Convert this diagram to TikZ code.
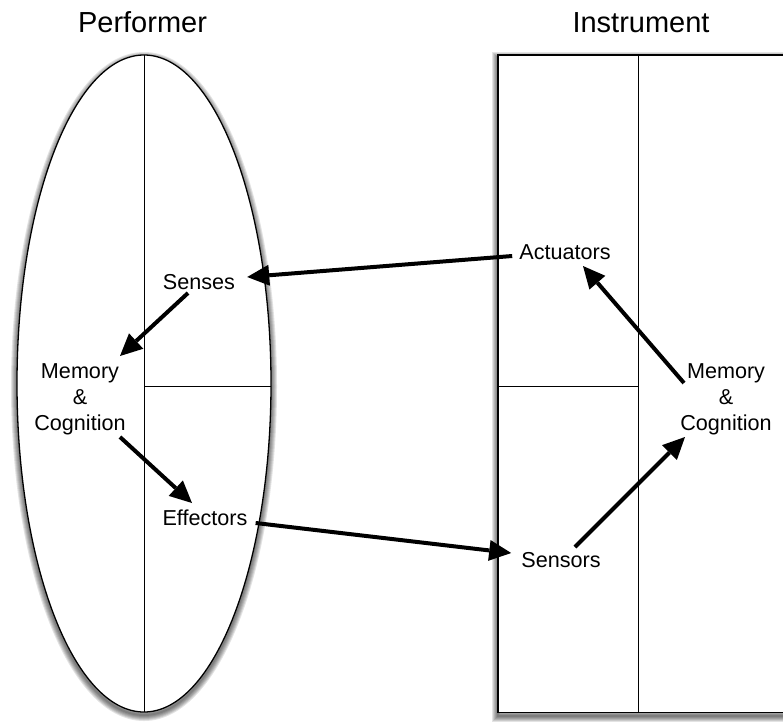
\documentclass[tikz,border=0pt]{standalone}
\usepackage{fontspec}
\setmainfont{Liberation Sans}
\usetikzlibrary{arrows.meta}

\tikzset{
  label/.style={inner sep=0pt, font=\fontsize{21.6}{26}\selectfont, align=center},
  title/.style={inner sep=0pt, font=\fontsize{29}{34}\selectfont},
  outline/.style={draw=black, line width=1.3pt, fill=white},
  halo/.style={draw=black, draw opacity=0.11, line width=#1},
  divider/.style={draw=black, line width=0.9pt},
  flow/.style={line width=4pt,
    -{Triangle[length=22pt,width=21pt,fill=black,line width=0pt]}}
}

% soft shadow: stacked translucent strokes, thickest outermost
\newcommand\softshadow[1]{%
  \foreach \w in {12,10,8,6,4,2}{%
    \path[halo=\w pt, yshift=-3pt] #1;
  }%
}

\begin{document}
\begin{tikzpicture}[x=1pt,y=-1pt]
  \useasboundingbox (0,0) rectangle (783,721);
  \clip (0,0) rectangle (783,721);

  % titles
  \node[title, anchor=base] (perf) at (142.5,32) {Performer};
  \node[title, anchor=base] (inst) at (641,32) {Instrument};

  % performer: ellipse split into three regions
  \softshadow{(144,383.5) ellipse [x radius=127, y radius=328.5]}
  \path[outline] (144,383.5) ellipse [x radius=127, y radius=328.5];
  \draw[divider] (144,55) -- (144,712);
  \draw[divider] (144,386) -- (270.5,386);

  % instrument: box split into three regions
  \softshadow{(498,55) rectangle (820,712.5)}
  \path[outline] (498,55) rectangle (820,712.5);
  \draw[divider] (638,55) -- (638,712.5);
  \draw[divider] (498,386) -- (638,386);

  % labels
  \node[label, anchor=base] (senses) at (199,289) {Senses};
  \node[label, anchor=base] (memL) at (80,430) {Memory\\\&\\Cognition};
  \node[label, anchor=base] (effectors) at (205,525) {Effectors};
  \node[label, anchor=base] (actuators) at (565,259) {Actuators};
  \node[label, anchor=base] (sensors) at (561,567) {Sensors};
  \node[label, anchor=base] (memR) at (726,430) {Memory\\\&\\Cognition};

  % information flow
  \draw[flow] ([xshift=-7pt,yshift=3pt]actuators.base west)
           -- ([xshift=12pt,yshift=12pt]senses.base east);
  \draw[flow] ([xshift=-11pt,yshift=-4pt]senses.base)
           -- ([xshift=40pt,yshift=74pt]memL.base);
  \draw[flow] ([xshift=40pt,yshift=-7pt]memL.base)
           -- ([xshift=-13pt,yshift=22pt]effectors.base);
  \draw[flow] ([xshift=8pt,yshift=2pt]effectors.base east)
           -- ([xshift=-10pt,yshift=14pt]sensors.base west);
  \draw[flow] ([xshift=14pt,yshift=20pt]sensors.base)
           -- ([xshift=-41pt,yshift=-7pt]memR.base);
  \draw[flow] ([xshift=-42pt,yshift=47pt]memR.base)
           -- ([xshift=18pt,yshift=-7pt]actuators.base);
\end{tikzpicture}
\end{document}
